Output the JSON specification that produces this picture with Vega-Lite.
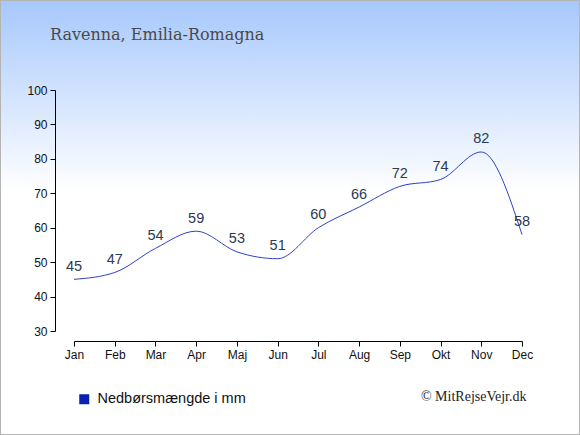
{
  "$schema": "https://vega.github.io/schema/vega-lite/v6.json",
  "width": 580,
  "height": 435,
  "autosize": "none",
  "padding": 0,
  "background": "white",
  "title": {
    "text": "Ravenna, Emilia-Romagna",
    "anchor": "start",
    "frame": "group",
    "orient": "top",
    "offset": -56,
    "dx": 50,
    "baseline": "alphabetic",
    "font": "DejaVu Serif",
    "fontSize": 16,
    "fontWeight": "normal",
    "color": "#4a4a4a"
  },
  "data": {
    "values": [
      {"month": "Jan", "mm": 45, "series": "Nedbørsmængde i mm"},
      {"month": "Feb", "mm": 47, "series": "Nedbørsmængde i mm"},
      {"month": "Mar", "mm": 54, "series": "Nedbørsmængde i mm"},
      {"month": "Apr", "mm": 59, "series": "Nedbørsmængde i mm"},
      {"month": "Maj", "mm": 53, "series": "Nedbørsmængde i mm"},
      {"month": "Jun", "mm": 51, "series": "Nedbørsmængde i mm"},
      {"month": "Jul", "mm": 60, "series": "Nedbørsmængde i mm"},
      {"month": "Aug", "mm": 66, "series": "Nedbørsmængde i mm"},
      {"month": "Sep", "mm": 72, "series": "Nedbørsmængde i mm"},
      {"month": "Okt", "mm": 74, "series": "Nedbørsmængde i mm"},
      {"month": "Nov", "mm": 82, "series": "Nedbørsmængde i mm"},
      {"month": "Dec", "mm": 58, "series": "Nedbørsmængde i mm"}
    ]
  },
  "encoding": {
    "x": {
      "field": "month",
      "type": "ordinal",
      "sort": null,
      "scale": {"type": "point", "range": [74, 522], "padding": 0},
      "axis": {
        "orient": "bottom",
        "offset": -94,
        "labelAngle": 0,
        "tickSize": 5,
        "domainColor": "#000000",
        "tickColor": "#000000",
        "labelFont": "Liberation Sans",
        "labelFontSize": 12,
        "labelColor": "#111111",
        "labelPadding": 3,
        "grid": false,
        "title": "© MitRejseVejr.dk",
        "titleX": 526,
        "titleY": 59,
        "titleAlign": "right",
        "titleBaseline": "alphabetic",
        "titleFont": "Liberation Serif",
        "titleFontSize": 14,
        "titleFontWeight": "normal",
        "titleColor": "#222222"
      }
    },
    "y": {
      "field": "mm",
      "type": "quantitative",
      "scale": {"domain": [30, 100], "range": [331, 90], "nice": false, "zero": false},
      "axis": {
        "orient": "left",
        "offset": -55,
        "values": [30, 40, 50, 60, 70, 80, 90, 100],
        "tickSize": 5,
        "domainColor": "#000000",
        "tickColor": "#000000",
        "labelFont": "Liberation Sans",
        "labelFontSize": 12,
        "labelColor": "#111111",
        "labelPadding": 3,
        "grid": false,
        "title": null
      }
    }
  },
  "layer": [
    {
      "mark": {"type": "line", "interpolate": "monotone", "strokeWidth": 1},
      "encoding": {
        "color": {
          "field": "series",
          "type": "nominal",
          "scale": {"range": ["#3040c8"]},
          "legend": {
            "orient": "none",
            "legendX": 77,
            "legendY": 392,
            "padding": 0,
            "title": null,
            "symbolType": "square",
            "symbolSize": 100,
            "labelFont": "Liberation Sans",
            "labelFontSize": 14.5,
            "labelColor": "#111111",
            "labelOffset": 6,
            "labelLimit": 300,
            "encode": {
              "symbols": {
                "update": {
                  "fill": {"value": "#0a20b0"},
                  "stroke": {"value": "#0a20b0"},
                  "strokeWidth": {"value": 0},
                  "opacity": {"value": 1}
                }
              }
            }
          }
        }
      }
    },
    {
      "mark": {
        "type": "text",
        "dy": -8.5,
        "baseline": "alphabetic",
        "font": "Liberation Sans",
        "fontSize": 14.5,
        "color": "#2b3a55"
      },
      "encoding": {
        "text": {"field": "mm", "type": "quantitative"}
      }
    }
  ],
  "config": {
    "view": {
      "fill": {
        "gradient": "linear",
        "x1": 0,
        "y1": 0,
        "x2": 0,
        "y2": 1,
        "stops": [
          {"offset": 0, "color": "#a6c8fc"},
          {"offset": 0.44, "color": "#ffffff"},
          {"offset": 1, "color": "#ffffff"}
        ]
      },
      "stroke": "#b4b4b4",
      "strokeWidth": 2
    }
  }
}
